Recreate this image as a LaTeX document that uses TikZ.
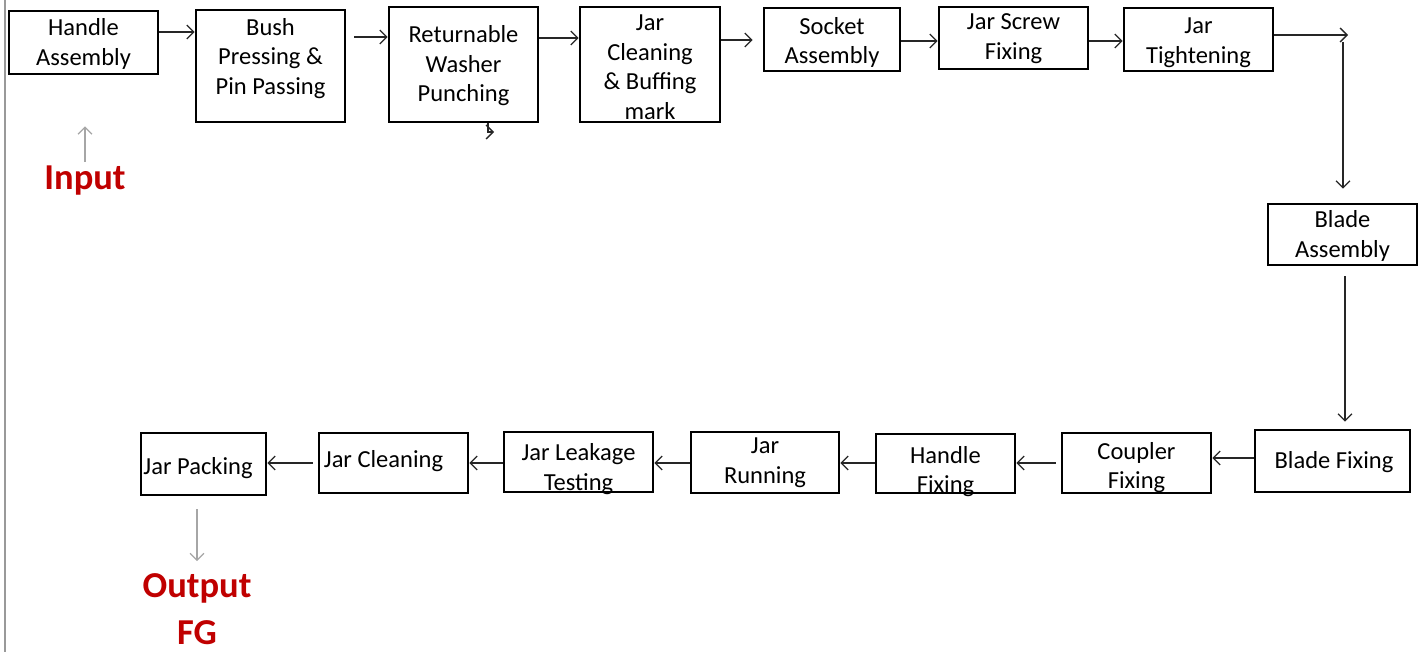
\documentclass[tikz,border=0pt]{standalone}
\usepackage{fontspec}
\setmainfont{Carlito}
\usetikzlibrary{arrows.meta}
\definecolor{outred}{RGB}{192,0,0}
\begin{document}
\begin{tikzpicture}
		[	x=1pt,y=-1pt,
		box/.style={rectangle,draw=black,line width=2.6pt,inner sep=0pt},
		txt/.style={align=center,inner sep=0pt,yshift=-1.5pt,font=\fontsize{24.5}{29.5}\selectfont},
		arr/.style={line width=1.3pt,draw=black!85,-{Straight Barb[length=7pt,width=14pt,line width=1.3pt]}},
		garr/.style={line width=1.3pt,draw=black!35,-{Straight Barb[length=7pt,width=14pt,line width=1.3pt]}},
		io/.style={inner sep=0pt,align=center,text=outred,font=\fontsize{36.5}{47}\selectfont\bfseries}
		]
		\useasboundingbox (0,0) rectangle (1426,652);
		\draw[black!40,line width=2pt] (5,0) -- (5,652);

		% top row
		\node[box,minimum width=149,minimum height=63,label={[txt]center:Handle\\Assembly}] (handle) at (83.5,42.5){};
		\node[box,minimum width=149,minimum height=112,label={[txt,yshift=9pt]center:Bush\\Pressing \&\\Pin Passing}] (bush) at (270.5,66){};
		\node[box,minimum width=149,minimum height=115,label={[txt]center:Returnable\\Washer\\Punching}] (ret) at (463.5,64.5){};
		\node[box,minimum width=140,minimum height=115,label={[txt,yshift=-1pt]center:Jar\\Cleaning\\\& Buffing\\mark}] (buff) at (650,64.5){};
		\node[box,minimum width=136,minimum height=63,label={[txt,yshift=-1.5pt]center:Socket\\Assembly}] (socket) at (832,39.5){};
		\node[box,minimum width=149,minimum height=62,label={[txt,yshift=1pt]center:Jar Screw\\Fixing}] (screw) at (1013.5,38){};
		\node[box,minimum width=149,minimum height=63,label={[txt,yshift=-1.5pt]center:Jar\\Tightening}] (tight) at (1198.5,39.5){};

		% right column
		\node[box,minimum width=149,minimum height=61,label={[txt]center:Blade\\Assembly}] (bladeasm) at (1342.5,234.5){};
		\node[box,minimum width=155,minimum height=62,label={[txt,xshift=1.5pt]center:Blade Fixing}] (bladefix) at (1332.5,461){};

		% bottom row
		\node[box,minimum width=149,minimum height=60,label={[txt,yshift=-3pt]center:Coupler\\Fixing}] (coupler) at (1136.5,463){};
		\node[box,minimum width=139,minimum height=59,label={[txt,yshift=-6.5pt]center:Handle\\Fixing}] (handlefix) at (945.5,463.5){};
		\node[box,minimum width=148,minimum height=61,label={[txt,yshift=1.5pt]center:Jar\\Running}] (running) at (765,462.5){};
		\node[box,minimum width=149,minimum height=60,label={[txt,yshift=-5.5pt]center:Jar Leakage\\Testing}] (leak) at (578.5,462){};
		\node[box,minimum width=149,minimum height=60,label={[txt,xshift=-10pt,yshift=3pt]center:Jar Cleaning}] (jarclean) at (393.5,463){};
		\node[box,minimum width=125,minimum height=62,label={[txt,xshift=-5.5pt,yshift=-3pt]center:Jar Packing}] (pack) at (203.5,464){};

		\node[io] (inp) at (85,181){Input};
		\node[io] (outp) at (197,609){Output\\FG};

		\coordinate (turn) at (1348,35);

		\draw[arr] (handle.east |- 0,32) -- (bush.west |- 0,32);
		\draw[arr,shorten <=8pt] (bush.east |- 0,37) -- (ret.west |- 0,37);
		\draw[arr] (ret.east |- 0,38) -- (buff.west |- 0,38);
		\draw[arr,shorten >=10pt] (buff.east |- 0,40) -- (socket.west |- 0,40);
		\draw[arr] (socket.east |- 0,41) -- (screw.west |- 0,41);
		\draw[arr] (screw.east |- 0,41) -- (tight.west |- 0,41);
		\draw[arr] (tight.east |- turn) -- (turn);
		\draw[arr,shorten <=7pt,shorten >=14pt] (1343,35) -- (bladeasm.north -| 1343,0);
		\draw[arr,shorten <=10pt,shorten >=7pt] (bladeasm.south -| 1345,0) -- (bladefix.north -| 1345,0);
		\draw[arr] (bladefix.west |- 0,458) -- (coupler.east |- 0,458);
		\draw[arr,shorten <=5pt] (coupler.west |- 0,463) -- (handlefix.east |- 0,463);
		\draw[arr] (handlefix.west |- 0,463) -- (running.east |- 0,463);
		\draw[arr] (running.west |- 0,463) -- (leak.east |- 0,463);
		\draw[arr] (leak.west |- 0,463) -- (jarclean.east |- 0,463);
		\draw[arr,shorten <=5pt] (jarclean.west |- 0,463) -- (pack.east |- 0,463);
		\draw[arr] (ret.south -| 488,0) |- (494,132);

		\draw[garr,shorten <=4pt,shorten >=51pt] (inp.north) -- (inp.north |- handle.south);
		\draw[garr,shorten <=13pt,shorten >=12pt] (pack.south -| outp.north) -- (outp.north);
	\end{tikzpicture}
\end{document}
